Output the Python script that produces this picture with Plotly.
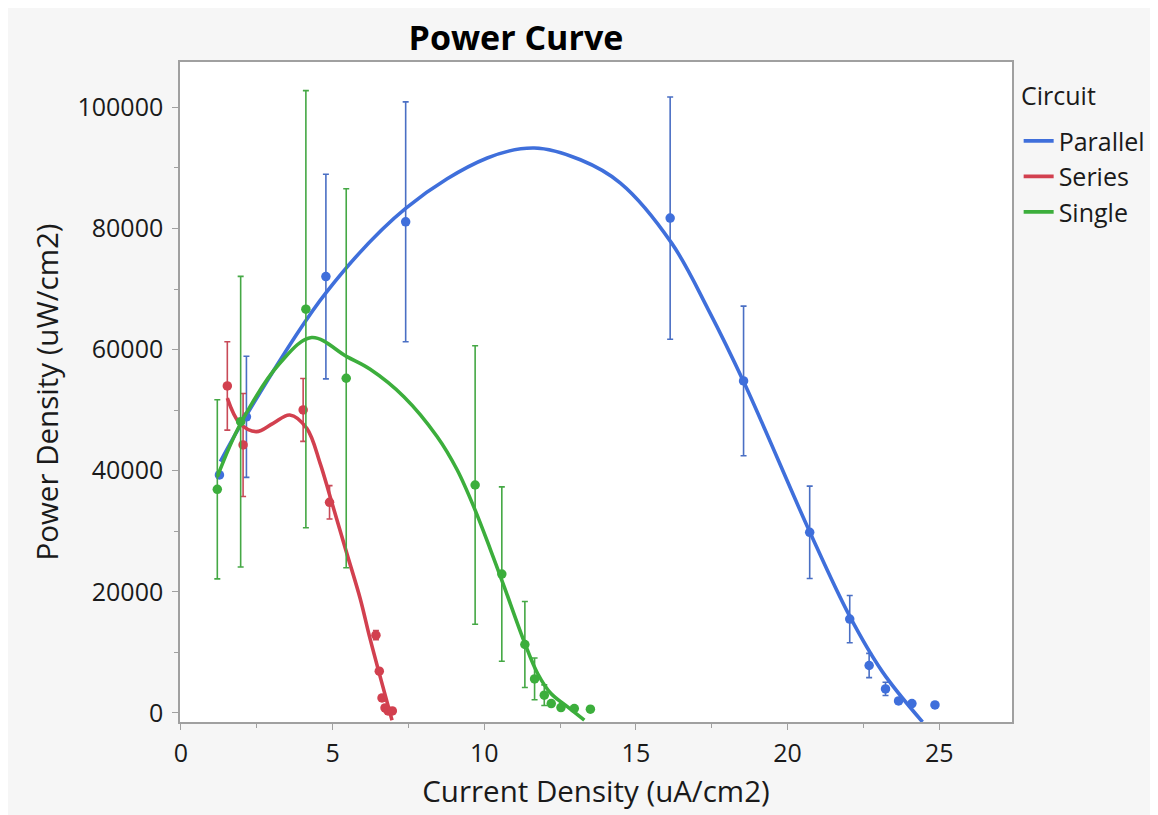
import plotly.graph_objects as go

# ---------------- data ----------------
parallel_x = [1.27, 2.16, 4.78, 7.41, 16.13, 18.55, 20.73, 22.05, 22.69, 23.23, 23.66, 24.10, 24.86]
parallel_y = [39300, 48900, 72070, 81110, 81720, 54830, 29820, 15500, 7830, 3970, 1980, 1550, 1320]
parallel_err = [0, 10000, 16900, 19800, 20000, 12350, 7630, 3900, 2000, 1100, 0, 0, 0]

series_x = [1.53, 2.05, 4.03, 4.90, 6.43, 6.54, 6.63, 6.73, 6.83, 6.97]
series_y = [54000, 44250, 50040, 34780, 12840, 6890, 2480, 830, 330, 330]
series_err = [7300, 8500, 5200, 2750, 750, 0, 0, 0, 0, 0]

single_x = [1.20, 1.97, 4.12, 5.45, 9.70, 10.58, 11.34, 11.66, 11.98, 12.21, 12.53, 12.97, 13.50]
single_y = [36930, 48100, 66680, 55270, 37640, 22930, 11300, 5620, 2930, 1550, 890, 730, 610]
single_err = [14800, 24000, 36100, 31300, 23000, 14400, 7100, 3450, 1700, 0, 0, 0, 0]

# smoothing-spline fits
parallel_fit_x = [1.3, 2.2, 4.78, 7.42, 10.1, 11.65, 13.17, 14.49, 16.18, 17.39,
                  18.55, 20.73, 22.03, 23.13, 24.45]
parallel_fit_y = [41500, 49500, 69380, 83380, 91640, 93300, 91360, 87510, 77590, 66570,
                  54720, 29920, 16150, 6780, -1490]

series_fit_x = [1.53, 1.94, 2.49, 3.04, 3.59, 4.15, 4.59, 4.92, 5.47, 5.91, 6.24, 6.96]
series_fit_y = [52000, 47840, 46450, 47830, 49200, 47000, 41220, 35700, 26350, 18900, 12180, -1200]

single_fit_x = [1.2, 1.97, 3.26, 4.31, 5.47, 6.24, 7.35, 8.45, 9.11, 9.70, 10.21, 10.66,
                11.32, 11.76, 12.2, 12.75, 13.3]
single_fit_y = [39000, 47800, 57750, 62000, 58850, 56760, 52230, 45620, 40120, 33500, 26900, 20830,
                11740, 6510, 3200, 990, -1200]

x_ticks = [0, 5, 10, 15, 20, 25]
y_ticks = [0, 20000, 40000, 60000, 80000, 100000]

names = ["Parallel", "Series", "Single"]
colors = ["#3f6fdb", "#d2404f", "#3cae3c"]
bar_colors = ["#4a6fc4", "#c84a58", "#45a845"]

FONT = "Open Sans"

fig = go.Figure()

groups = [
    (parallel_x, parallel_y, parallel_err, parallel_fit_x, parallel_fit_y),
    (series_x, series_y, series_err, series_fit_x, series_fit_y),
    (single_x, single_y, single_err, single_fit_x, single_fit_y),
]

for i, (gx, gy, ge, fx, fy) in enumerate(groups):
    fig.add_trace(go.Scatter(
        x=gx, y=gy, mode="markers", name=names[i], showlegend=False,
        marker=dict(color=colors[i], size=9.5),
        error_y=dict(type="data", array=ge, visible=True, color=bar_colors[i],
                     thickness=1.6, width=3),
        cliponaxis=False,
    ))
    fig.add_trace(go.Scatter(
        x=fx, y=fy, mode="lines", name=names[i], showlegend=True,
        line=dict(color=colors[i], width=3.6, shape="spline", smoothing=1.0),
    ))

axis_common = dict(
    showgrid=False, zeroline=False, showline=True, linecolor="#a0a0a0", linewidth=1.5,
    mirror=True, ticks="outside", ticklen=6, tickcolor="#a0a0a0", tickwidth=1.2,
    tickfont=dict(family=FONT, size=25, color="#1a1a1a"),
)

fig.update_layout(
    width=1150, height=807,
    paper_bgcolor="#f6f6f6", plot_bgcolor="#ffffff",
    margin=dict(l=172, r=146, t=54, b=93, autoexpand=False),
    title=dict(text="<b>Power Curve</b>", x=0.4417, xanchor="center", y=0.963, yanchor="middle",
               font=dict(family=FONT, size=34, color="#000000")),
    xaxis=dict(range=[-0.03, 27.4], tickvals=x_ticks, ticktext=[str(v) for v in x_ticks],
               minor=dict(dtick=2.5, ticks="outside", ticklen=4, tickcolor="#a0a0a0"),
               ticklabelstandoff=2,
               title=dict(text="Current Density (uA/cm2)", standoff=14,
                          font=dict(family=FONT, size=29.5, color="#1a1a1a")),
               **axis_common),
    yaxis=dict(range=[-1500, 107500], tickvals=y_ticks, ticktext=[str(v) for v in y_ticks],
               minor=dict(dtick=10000, ticks="outside", ticklen=4, tickcolor="#a0a0a0"),
               ticklabelstandoff=4,
               title=dict(text="Power Density (uW/cm2)", standoff=10,
                          font=dict(family=FONT, size=29.5, color="#1a1a1a")),
               **axis_common),
    legend=dict(font=dict(family=FONT, size=25, color="#1a1a1a"),
                x=1.008, xanchor="left", y=0.915, yanchor="top",
                bgcolor="rgba(0,0,0,0)", itemwidth=30, tracegroupgap=0),
    showlegend=True,
    annotations=[dict(text="Circuit", xref="paper", yref="paper", x=1.008, y=0.95,
                      xanchor="left", yanchor="middle", showarrow=False,
                      font=dict(family=FONT, size=25, color="#1a1a1a"))],
)

fig.write_html("out.html")
